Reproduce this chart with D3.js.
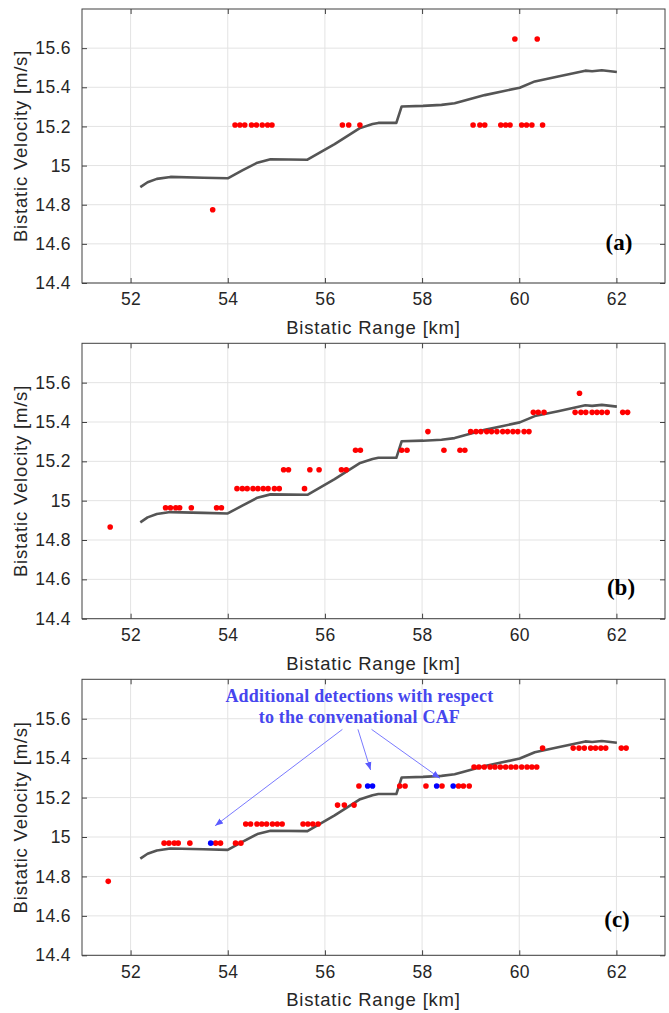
<!DOCTYPE html>
<html>
<head>
<meta charset="utf-8">
<script src="https://cdn.jsdelivr.net/npm/d3@7"></script>
<style>
  body { margin: 0; background: #fff; }
  svg { display: block; }
  .tick-label { font-family: "Liberation Sans", Arial, sans-serif; font-size: 17.5px; fill: #262626; letter-spacing: 0.4px; }
  .axis-title { font-family: "Liberation Sans", Arial, sans-serif; font-size: 18.5px; fill: #262626; letter-spacing: 0.8px; }
  .panel-label { font-family: "Liberation Serif", "Times New Roman", serif; font-size: 23px; font-weight: bold; fill: #000; }
  .note { font-family: "Liberation Serif", "Times New Roman", serif; font-size: 18px; font-weight: bold; fill: #4646ee; letter-spacing: 0.2px; }
</style>
</head>
<body>
<script>
// axis ticks
const rangeTicks = [52, 54, 56, 58, 60, 62];
const velTicks = [14.4, 14.6, 14.8, 15, 15.2, 15.4, 15.6];

// reference track (same on every panel)
const trackRange = [52.2, 52.35, 52.54, 52.82, 53.5, 54.0, 54.3, 54.61, 54.88, 55.64, 56.2, 56.71, 56.98, 57.1, 57.47, 57.58, 58.02, 58.4, 58.67, 58.84, 59.29, 60.01, 60.32, 60.8, 61.36, 61.5, 61.7, 62.01];
const trackVel   = [14.89, 14.915, 14.932, 14.942, 14.938, 14.935, 14.975, 15.015, 15.032, 15.03, 15.11, 15.19, 15.212, 15.218, 15.218, 15.302, 15.305, 15.31, 15.318, 15.33, 15.36, 15.398, 15.43, 15.455, 15.485, 15.482, 15.487, 15.478];

// (a) detections [range km, velocity m/s]
const detectA = [
  [53.69, 14.774],
  [54.15, 15.207], [54.25, 15.207], [54.35, 15.207], [54.49, 15.207], [54.59, 15.207],
  [54.71, 15.207], [54.82, 15.207], [54.91, 15.207], [56.36, 15.207], [56.49, 15.207], [56.72, 15.207],
  [59.05, 15.207], [59.19, 15.207], [59.29, 15.207], [59.62, 15.207], [59.72, 15.207], [59.81, 15.207],
  [60.05, 15.207], [60.15, 15.207], [60.26, 15.207], [60.48, 15.207],
  [59.91, 15.647], [60.37, 15.647]
];

// (b) detections
const detectB = [
  [51.58, 14.866],
  [52.72, 14.964], [52.82, 14.964], [52.93, 14.964], [53.01, 14.964], [53.25, 14.964], [53.77, 14.964], [53.87, 14.964],
  [54.19, 15.061], [54.30, 15.061], [54.40, 15.061], [54.52, 15.061], [54.62, 15.061], [54.73, 15.061],
  [54.83, 15.061], [54.96, 15.061], [55.06, 15.061], [55.58, 15.061],
  [55.15, 15.157], [55.25, 15.157], [55.69, 15.157], [55.88, 15.157], [56.34, 15.157], [56.44, 15.157],
  [56.63, 15.256], [56.73, 15.256], [57.58, 15.256], [57.69, 15.256], [58.45, 15.256], [58.78, 15.256], [58.88, 15.256],
  [58.12, 15.351], [59.00, 15.351], [59.11, 15.351], [59.21, 15.351], [59.33, 15.351], [59.43, 15.351], [59.54, 15.351],
  [59.66, 15.351], [59.76, 15.351], [59.87, 15.351], [59.97, 15.351], [60.10, 15.351], [60.20, 15.351],
  [60.29, 15.449], [60.39, 15.449], [60.51, 15.449], [61.15, 15.449], [61.27, 15.449], [61.37, 15.449],
  [61.50, 15.449], [61.60, 15.449], [61.70, 15.449], [61.81, 15.449], [62.13, 15.449], [62.23, 15.449],
  [61.24, 15.546]
];

// (c) detections common with conventional CAF (red)
const detectC = [
  [51.54, 14.775],
  [52.69, 14.969], [52.79, 14.969], [52.90, 14.969], [52.98, 14.969], [53.22, 14.969], [53.75, 14.969], [53.85, 14.969],
  [54.16, 14.969], [54.27, 14.969],
  [54.37, 15.066], [54.47, 15.066], [54.60, 15.066], [54.70, 15.066], [54.80, 15.066], [54.92, 15.066],
  [55.02, 15.066], [55.12, 15.066], [55.55, 15.066], [55.65, 15.066], [55.75, 15.066], [55.86, 15.066],
  [56.26, 15.162], [56.40, 15.162], [56.60, 15.162],
  [56.70, 15.259], [57.54, 15.259], [57.65, 15.259], [58.08, 15.259], [58.41, 15.259], [58.75, 15.259], [58.85, 15.259], [58.97, 15.259],
  [59.07, 15.355], [59.17, 15.355], [59.28, 15.355], [59.40, 15.355], [59.50, 15.355], [59.61, 15.355], [59.72, 15.355],
  [59.83, 15.355], [59.93, 15.355], [60.05, 15.355], [60.16, 15.355], [60.26, 15.355], [60.36, 15.355],
  [60.48, 15.451], [61.11, 15.451], [61.23, 15.451], [61.34, 15.451], [61.47, 15.451], [61.57, 15.451],
  [61.68, 15.451], [61.78, 15.451], [62.10, 15.451], [62.20, 15.451]
];

// (c) additional detections (blue)
const extraC = [[53.65, 14.969], [56.88, 15.259], [56.98, 15.259], [58.30, 15.259], [58.64, 15.259]];

// (c) annotation arrows: [fromRange, fromVel, toRange, toVel]
const noteArrows = [
  [56.36, 15.546, 53.74, 15.057],
  [56.68, 15.546, 56.94, 15.340],
  [56.96, 15.546, 58.37, 15.298]
];
const noteLines = ["Additional detections with respect", "to the convenational CAF"];

const W = 669, H = 1013;
const svg = d3.select("body").append("svg").attr("width", W).attr("height", H);

svg.append("defs").append("marker")
  .attr("id", "arrowhead")
  .attr("viewBox", "0 0 10 10")
  .attr("refX", 10).attr("refY", 5)
  .attr("markerWidth", 8).attr("markerHeight", 8)
  .attr("markerUnits", "userSpaceOnUse")
  .attr("orient", "auto")
  .append("path")
  .attr("d", "M0,1 L10,5 L0,9 Z")
  .attr("fill", "#5a5aff");

const panels = [
  {top: 9, bottom: 283, red: detectA, blue: [], label: "(a)", labelX: 619, labelDy: 241, note: false},
  {top: 343.3, bottom: 618.7, red: detectB, blue: [], label: "(b)", labelX: 621, labelDy: 251.5, note: false},
  {top: 679.3, bottom: 955.3, red: detectC, blue: extraC, label: "(c)", labelX: 617, labelDy: 247.5, note: true}
];

const left = 82, right = 665;
const track = trackRange.map((r, i) => [r, trackVel[i]]);

panels.forEach(p => {
  const x = d3.scaleLinear().domain([51, 63]).range([left, right]);
  const y = d3.scaleLinear().domain([14.4, 15.8]).range([p.bottom, p.top]);
  const g = svg.append("g");

  // grid
  g.append("g").selectAll("line").data(rangeTicks).join("line")
    .attr("x1", d => x(d)).attr("x2", d => x(d))
    .attr("y1", p.top).attr("y2", p.bottom)
    .attr("stroke", "#e3e3e3").attr("stroke-width", 1);
  g.append("g").selectAll("line").data(velTicks).join("line")
    .attr("x1", left).attr("x2", right)
    .attr("y1", d => y(d)).attr("y2", d => y(d))
    .attr("stroke", "#e3e3e3").attr("stroke-width", 1);

  // axes (ticks inward, box)
  const tl = 5;
  g.append("g").attr("transform", `translate(0,${p.bottom})`)
    .call(d3.axisBottom(x).tickValues(rangeTicks).tickSizeInner(-tl).tickSizeOuter(0).tickPadding(10))
    .call(a => a.select(".domain").remove());
  g.append("g").attr("transform", `translate(0,${p.top})`)
    .call(d3.axisTop(x).tickValues(rangeTicks).tickSizeInner(-tl).tickSizeOuter(0).tickFormat(""))
    .call(a => a.select(".domain").remove());
  g.append("g").attr("transform", `translate(${left},0)`)
    .call(d3.axisLeft(y).tickValues(velTicks).tickSizeInner(-tl).tickSizeOuter(0).tickPadding(11).tickFormat(d3.format("~g")))
    .call(a => a.select(".domain").remove());
  g.append("g").attr("transform", `translate(${right},0)`)
    .call(d3.axisRight(y).tickValues(velTicks).tickSizeInner(-tl).tickSizeOuter(0).tickFormat(""))
    .call(a => a.select(".domain").remove());
  g.selectAll(".tick line").attr("stroke", "#404040");
  g.selectAll(".tick text").attr("class", "tick-label").attr("fill", null).attr("font-size", null).attr("font-family", null);
  g.selectAll("g").attr("font-size", null).attr("font-family", null);

  g.append("rect")
    .attr("x", left).attr("y", p.top)
    .attr("width", right - left).attr("height", p.bottom - p.top)
    .attr("fill", "none").attr("stroke", "#404040").attr("stroke-width", 1);

  // titles
  g.append("text").attr("class", "axis-title")
    .attr("x", (left + right) / 2).attr("y", p.bottom + 51)
    .attr("text-anchor", "middle")
    .text("Bistatic Range [km]");
  g.append("text").attr("class", "axis-title")
    .attr("transform", `translate(27,${(p.top + p.bottom) / 2}) rotate(-90)`)
    .attr("text-anchor", "middle")
    .text("Bistatic Velocity [m/s]");

  // track
  g.append("path").datum(track)
    .attr("fill", "none")
    .attr("stroke", "#555555")
    .attr("stroke-width", 2.6)
    .attr("stroke-linejoin", "round")
    .attr("d", d3.line().x(d => x(d[0])).y(d => y(d[1])));

  // detections
  g.append("g").selectAll("circle").data(p.red).join("circle")
    .attr("cx", d => x(d[0])).attr("cy", d => y(d[1]))
    .attr("r", 2.8).attr("fill", "#ff0000");
  g.append("g").selectAll("circle").data(p.blue).join("circle")
    .attr("cx", d => x(d[0])).attr("cy", d => y(d[1]))
    .attr("r", 2.8).attr("fill", "#0000ff");

  // panel label
  g.append("text").attr("class", "panel-label")
    .attr("x", p.labelX).attr("y", p.top + p.labelDy)
    .attr("text-anchor", "middle")
    .text(p.label);

  if (p.note) {
    g.append("g").selectAll("line").data(noteArrows).join("line")
      .attr("x1", d => x(d[0])).attr("y1", d => y(d[1]))
      .attr("x2", d => x(d[2])).attr("y2", d => y(d[3]))
      .attr("stroke", "#6a6aff").attr("stroke-width", 0.9)
      .attr("marker-end", "url(#arrowhead)");
    g.append("g").selectAll("text").data(noteLines).join("text")
      .attr("class", "note")
      .attr("x", x(56.71))
      .attr("y", (d, i) => y(15.686) + i * 21.6)
      .attr("text-anchor", "middle")
      .text(d => d);
  }
});
</script>
</body>
</html>
